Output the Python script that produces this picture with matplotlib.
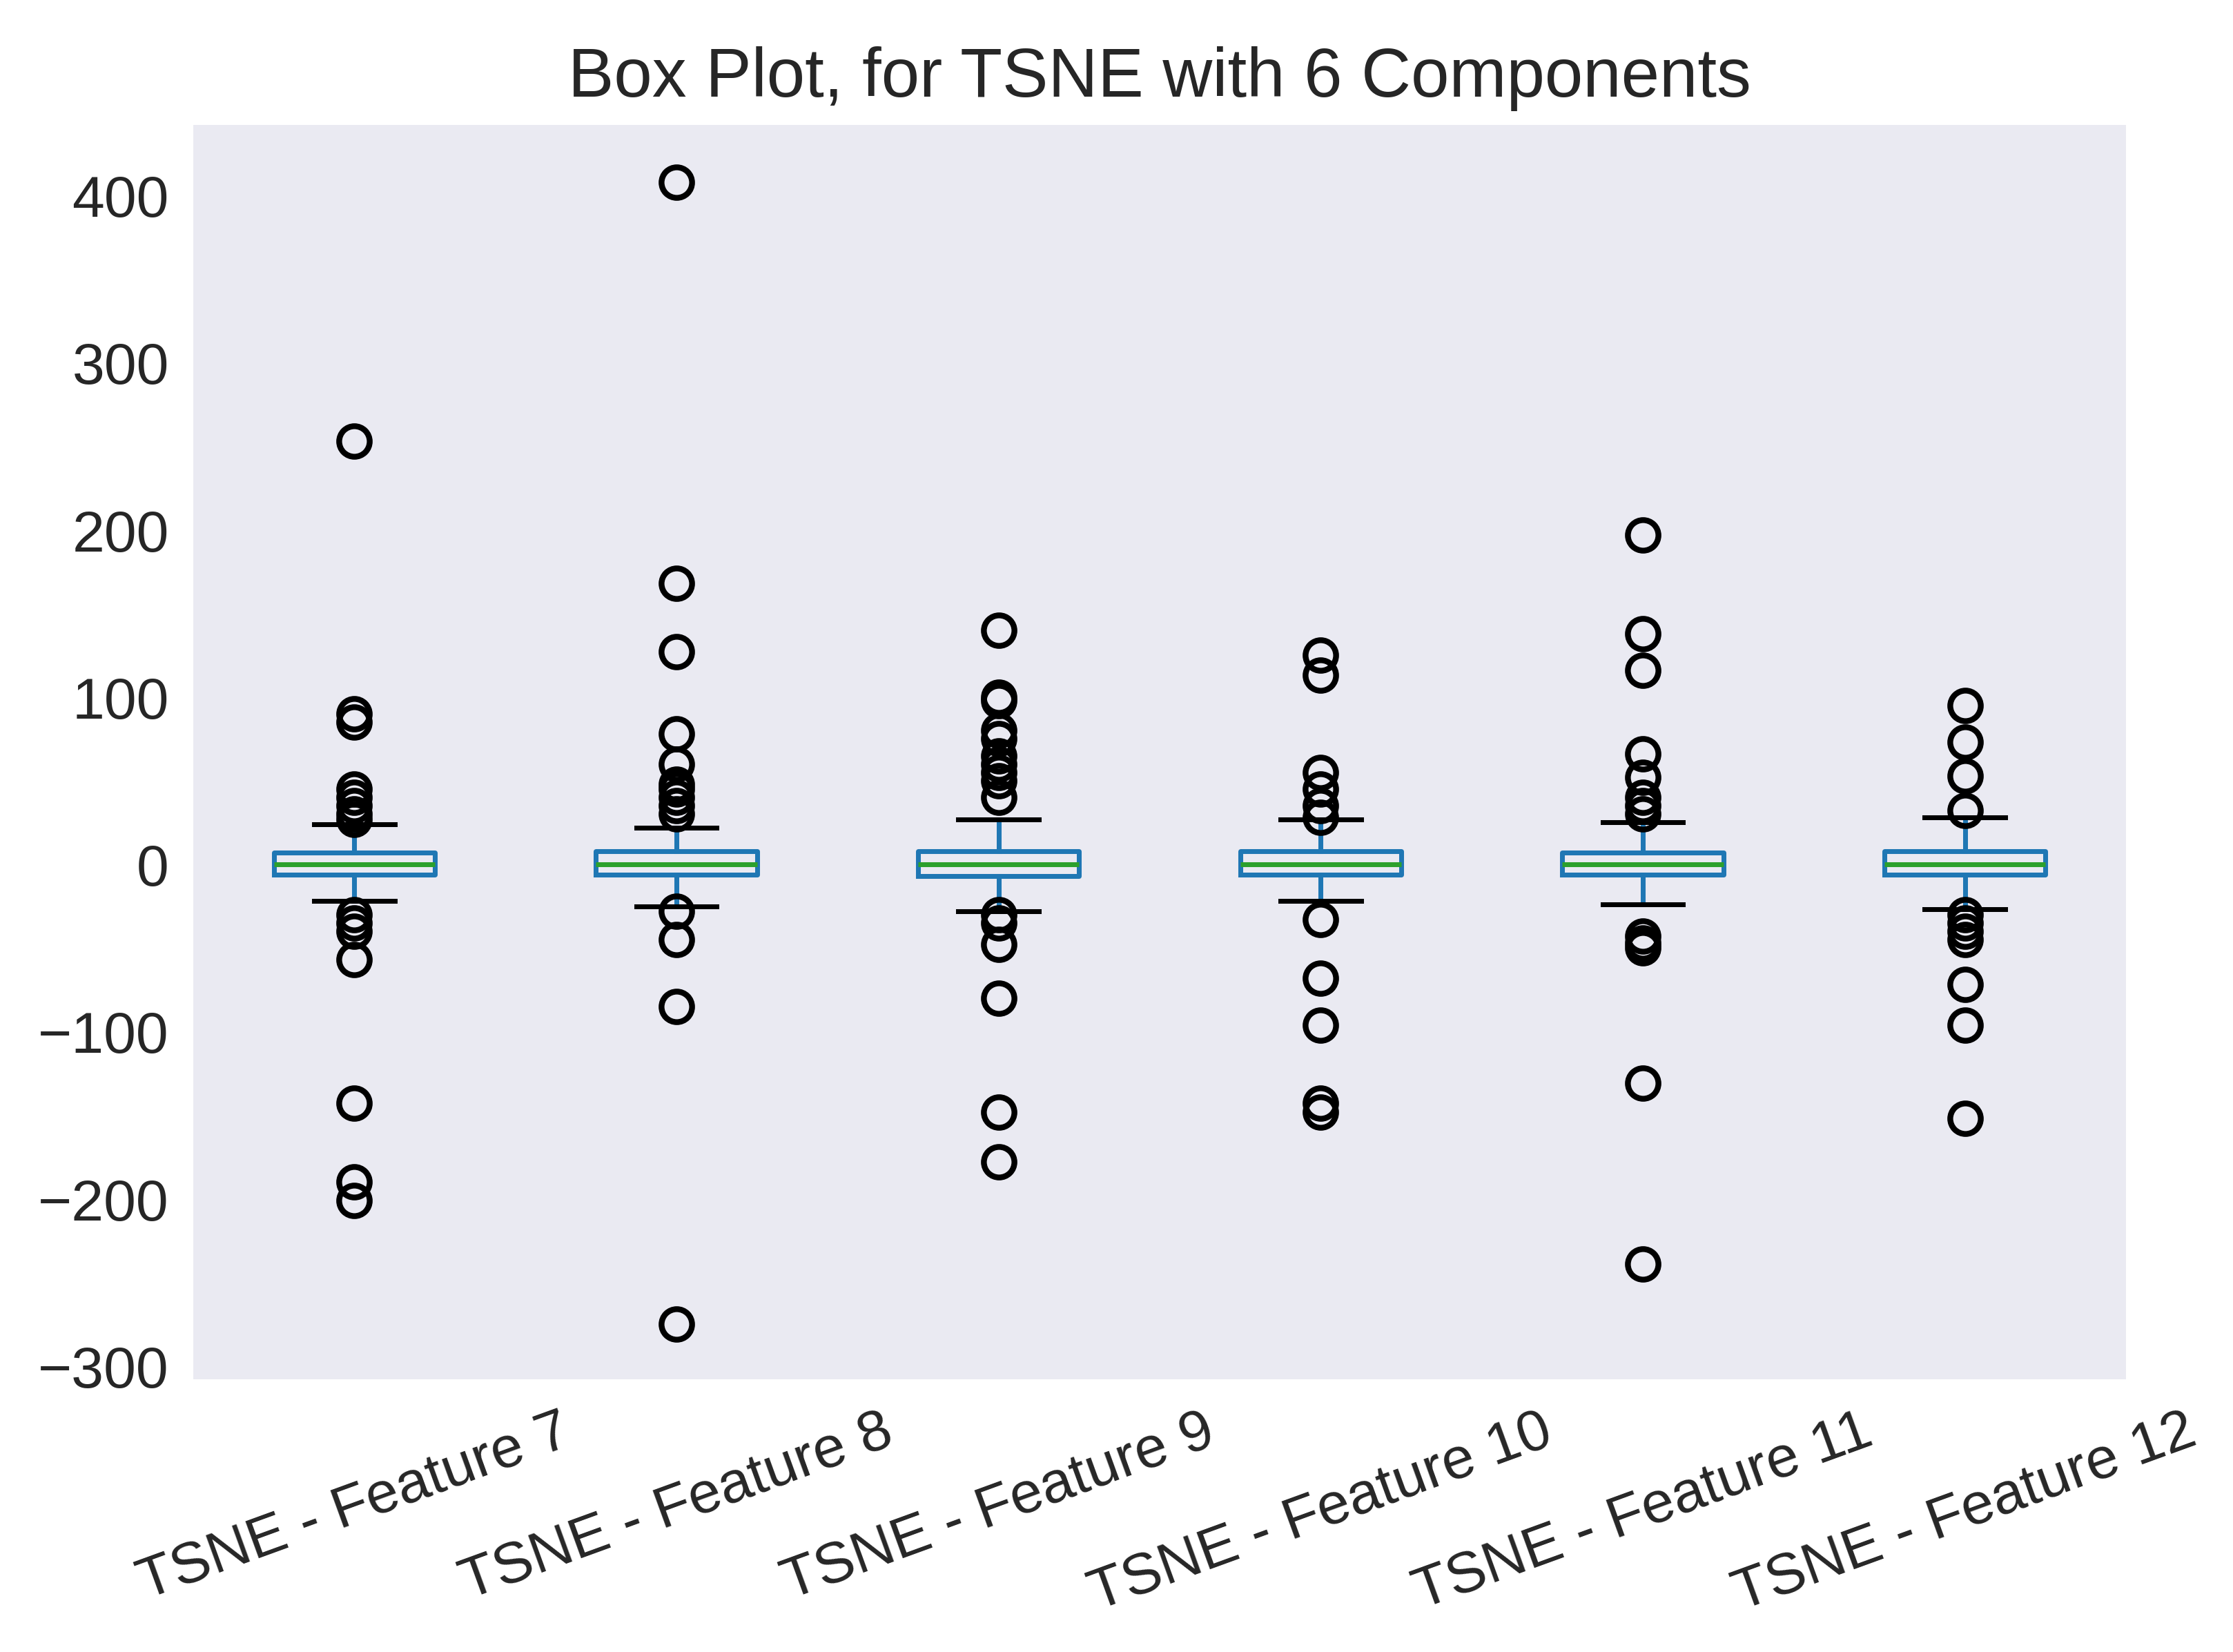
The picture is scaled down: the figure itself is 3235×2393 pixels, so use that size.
import matplotlib.pyplot as plt

# Box statistics
labels = ['TSNE - Feature 7', 'TSNE - Feature 8', 'TSNE - Feature 9',
          'TSNE - Feature 10', 'TSNE - Feature 11', 'TSNE - Feature 12']
q1 = [-6, -6, -7, -6, -6, -6]
med = [0, 0, 0, 0, 0, 0]
q3 = [7, 8, 8, 8, 7, 8]
whislo = [-22, -25, -28, -22, -24, -27]
whishi = [24, 22, 27, 27, 25, 28]
fliers = [
    [253, 90, 85, 45, 40, 35, 30, 27, -30, -35, -40, -57, -143, -190, -201],
    [408, 168, 127, 78, 60, 48, 45, 40, 35, 30, -28, -45, -85, -275],
    [140, 100, 98, 80, 75, 65, 60, 55, 50, 40, -30, -35, -48, -80, -148, -178],
    [125, 113, 55, 45, 35, 28, -33, -68, -96, -143, -148],
    [197, 138, 116, 66, 52, 40, 35, 30, -43, -47, -50, -131, -239],
    [95, 73, 53, 32, -30, -35, -40, -45, -72, -96, -152],
]

stats = [dict(label=l, q1=a, med=m, q3=b, whislo=lo, whishi=hi, fliers=f)
         for l, a, m, b, lo, hi, f in zip(labels, q1, med, q3, whislo, whishi, fliers)]

plt.rcParams['font.family'] = ['Liberation Sans', 'DejaVu Sans']
fig = plt.figure(figsize=(6.4, 4.735), dpi=505.5)
ax = fig.add_axes([0.0865, 0.165, 0.8655, 0.759])
ax.set_facecolor('#EAEAF2')
for s in ax.spines.values():
    s.set_visible(False)

ax.bxp(stats,
       boxprops=dict(color='C0', linewidth=1.0),
       whiskerprops=dict(color='C0', linewidth=1.0),
       medianprops=dict(color='C2', linewidth=1.0),
       capprops=dict(color='black', linewidth=1.0),
       flierprops=dict(marker='o', markerfacecolor='none', markeredgecolor='black',
                       markersize=6.3, markeredgewidth=1.2))

ax.set_ylim(-308, 442)
ax.set_title('Box Plot, for TSNE with 6 Components', fontsize=14.2, color='#262626')
ax.tick_params(axis='both', length=0, labelsize=12, colors='#262626', pad=5)
plt.setp(ax.get_xticklabels(), rotation=20)

fig.savefig('out.png', dpi=505.5)
